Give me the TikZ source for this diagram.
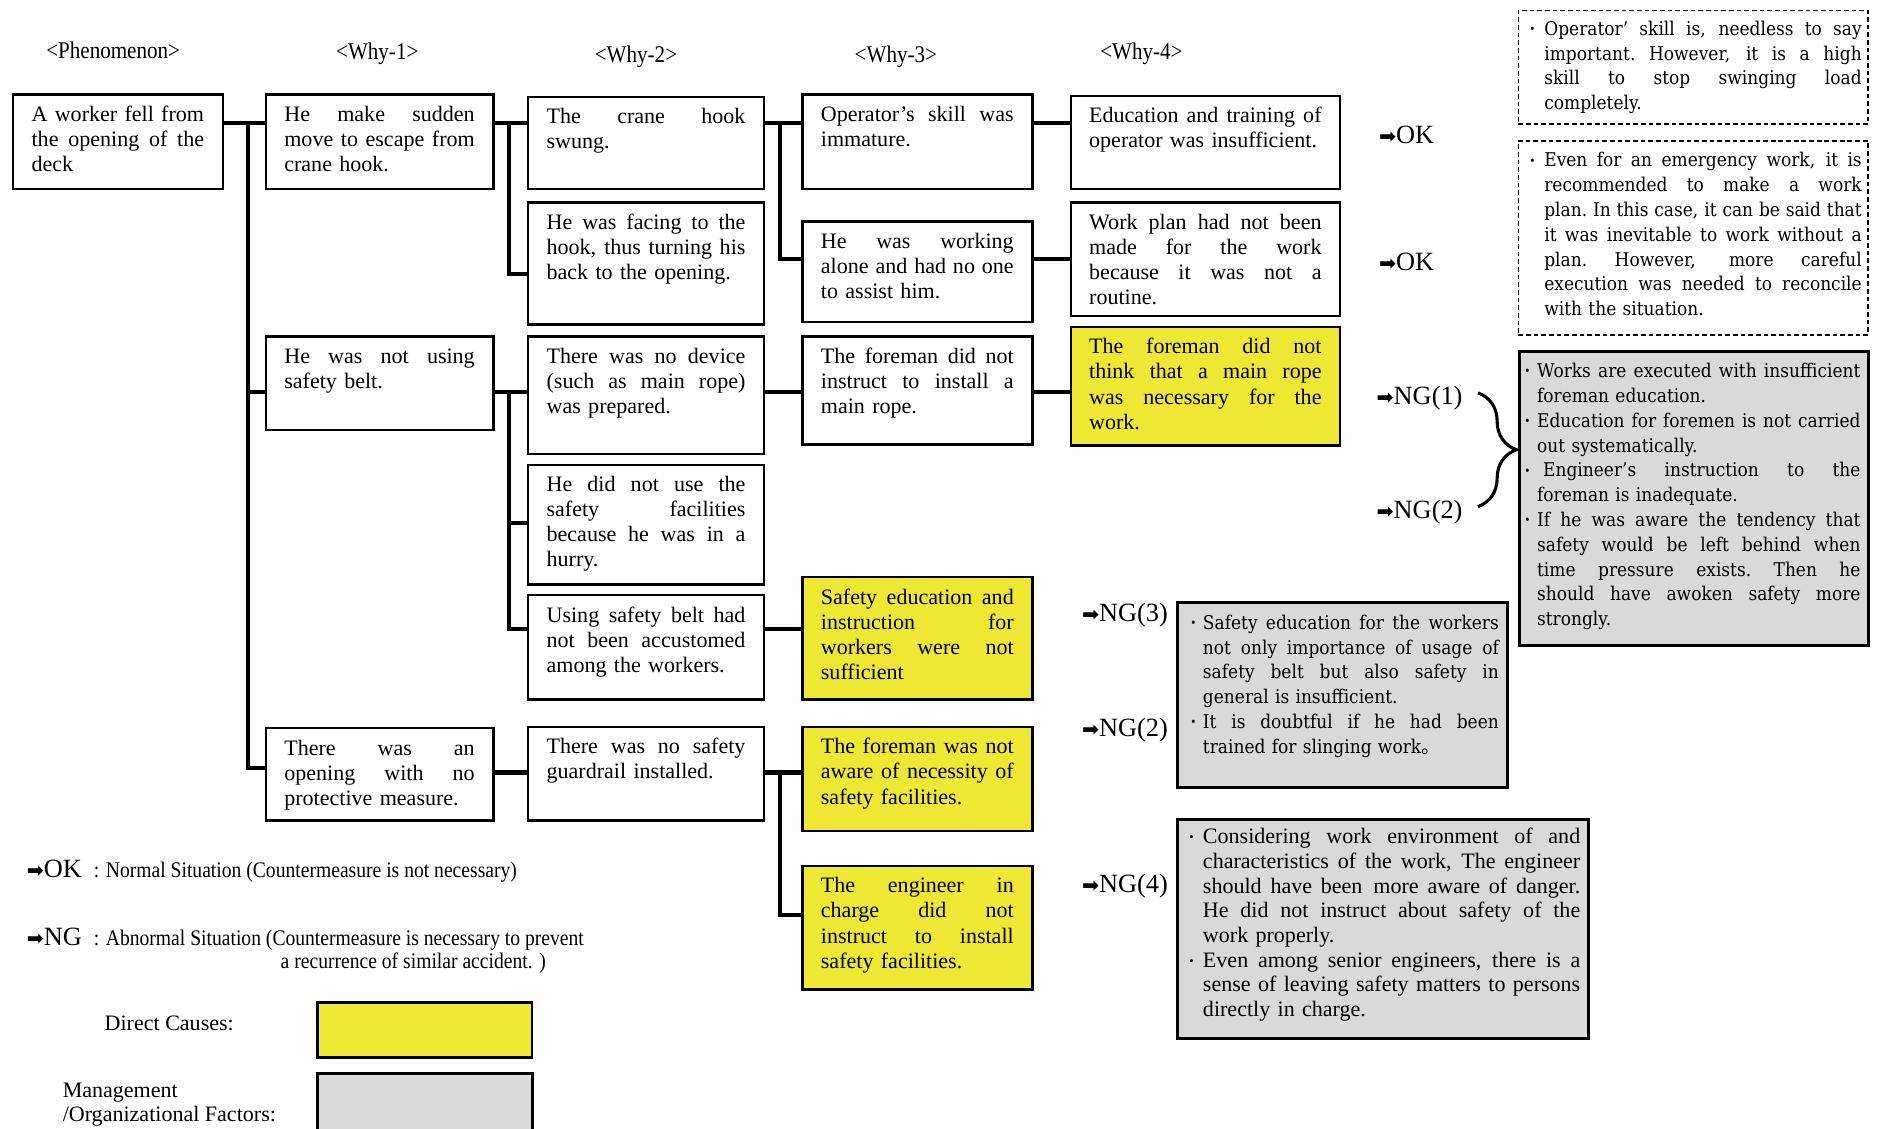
\documentclass[tikz,border=0pt]{standalone}
\usepackage{fontspec}
\setmainfont{Liberation Serif}
\newfontfamily\centfam[FakeStretch=0.9]{DejaVu Serif}
\newfontfamily\narrowfam[FakeStretch=0.88]{Liberation Serif}
\newfontfamily\symfam{DejaVu Sans}
\newfontfamily\cjkfam{Noto Sans CJK JP}
\usetikzlibrary{backgrounds,decorations.pathreplacing}
\definecolor{cyel}{HTML}{EEE734}
\definecolor{cgray}{HTML}{D9D9D9}
\hbadness=10000 \hfuzz=30pt

% justified / bulleted single lines, each one its own paragraph
\newdimen\bulw
\newdimen\jwidth
\newcommand\spreadto[2]{\hbox to #1{\spaceskip=0.25em plus 1fil minus 0.08em\relax\xspaceskip=\spaceskip #2}}
\newcommand\lnj[1]{\leavevmode\spreadto{\jwidth}{#1}\par}
\newcommand\lnt[1]{\leavevmode#1\par}
\newcommand\dotm{\raisebox{-0.9pt}{\fontsize{10.5pt}{10.5pt}\selectfont ·}}
\newcommand\lnbj[1]{\leavevmode\hbox to\bulw{\dotm\hss}\spreadto{\dimexpr\jwidth-\bulw\relax}{#1}\par}
\newcommand\lnij[1]{\leavevmode\hbox to\bulw{\hss}\spreadto{\dimexpr\jwidth-\bulw\relax}{#1}\par}
\newcommand\lnil[1]{\leavevmode\hbox to\bulw{\hss}#1\par}
\newcommand\strutline{\leavevmode\rule{0pt}{7pt}}
\newcommand\arrowmark{{\symfam\fontsize{8.5pt}{8.5pt}\selectfont ➡}}

\newcommand\mainf{\fontsize{9.2pt}{10.5pt}\selectfont}
\newcommand\centf{\centfam\fontsize{7.9pt}{10.35pt}\selectfont}
\newcommand\gthreef{\fontsize{9.2pt}{10.3pt}\selectfont}
\newcommand\okf{\fontsize{11pt}{13pt}\selectfont}
\newcommand\legf{\narrowfam\fontsize{9.3pt}{11pt}\selectfont}
\newcommand\headf{\narrowfam\fontsize{10pt}{11pt}\selectfont}

\tikzset{
  box/.style={draw, line width=1pt, fill=white, inner sep=0pt},
  ybox/.style={box, fill=cyel},
  gbox/.style={draw, line width=1.3pt, fill=cgray, inner sep=0pt},
  dbox/.style={draw, line width=0.7pt, dash pattern=on 2pt off 1.2pt, inner sep=0pt},
  txt/.style={inner sep=0pt, anchor=north west, align=left, font=\mainf},
  conn/.style={line width=1.7pt, line cap=rect, line join=miter},
  lbl/.style={inner sep=0pt, anchor=base west, font=\okf},
  leg/.style={inner sep=0pt, anchor=base west, font=\legf},
  plain/.style={inner sep=0pt, anchor=base west, font=\mainf},
  head/.style={inner sep=0pt, anchor=base, font=\headf},
}

% box with its text: name, x1, y1, x2, y2, style, lines
\newcommand\cbox[7]{%
  \pgfmathsetmacro\bxw{(#4-#2)*0.5}%
  \pgfmathsetmacro\bxh{(#5-#3)*0.5}%
  \pgfmathsetmacro\bxt{(#4-#2-31)*0.5}%
  \global\jwidth=\bxt pt\relax
  \node[#6, minimum width=\bxw pt, minimum height=\bxh pt, anchor=north west] (#1) at (#2,#3) {};
  \node[txt, text width=\bxt pt] (#1-t) at ([xshift=8pt,yshift=-4.5pt]#1.north west)
    {\strutline#7};
}
% empty frame: name, x1, y1, x2, y2, style
\newcommand\pbox[6]{%
  \pgfmathsetmacro\bxw{(#4-#2)*0.5}%
  \pgfmathsetmacro\bxh{(#5-#3)*0.5}%
  \node[#6, minimum width=\bxw pt, minimum height=\bxh pt, anchor=north west] (#1) at (#2,#3) {};
}
% text block with bullets: width, bullet width
\newcommand\setblock[2]{\global\jwidth=#1\relax\global\bulw=#2\relax}

\begin{document}
\begin{tikzpicture}[x=0.5pt, y=-0.5pt]
\useasboundingbox (0,0) rectangle (1568,942);
\begin{pgfonlayer}{background}
  \fill[white] (0,0) rectangle (1568,942);
\end{pgfonlayer}

% column headings
\node[head] (h0) at (94.5,49) {<Phenomenon>};
\node[head] (h1) at (315,50) {<Why-1>};
\node[head] (h2) at (531,52) {<Why-2>};
\node[head] (h3) at (748,52) {<Why-3>};
\node[head] (h4) at (953,50) {<Why-4>};

% phenomenon
\cbox{phen}{10}{78}{185}{157}{box}{\lnj{A worker fell from}\lnj{the opening of the}\lnt{deck}}

% why-1
\cbox{w1a}{221}{78}{411}{157}{box}{\lnj{He make sudden}\lnj{move to escape from}\lnt{crane hook.}}
\cbox{w1b}{221}{280}{411}{358}{box}{\lnj{He was not using}\lnt{safety belt.}}
\cbox{w1c}{221}{607}{411}{684}{box}{\lnj{There was an}\lnj{opening with no}\lnt{protective measure.}}

% why-2
\cbox{w2a}{440}{80}{637}{157}{box}{\lnj{The crane hook}\lnt{swung.}}
\cbox{w2b}{440}{168}{637}{270}{box}{\lnj{He was facing to the}\lnj{hook, thus turning his}\lnt{back to the opening.}}
\cbox{w2c}{440}{280}{637}{378}{box}{\lnj{There was no device}\lnj{(such as main rope)}\lnt{was prepared.}}
\cbox{w2d}{440}{387}{637}{487}{box}{\lnj{He did not use the}\lnj{safety facilities}\lnj{because he was in a}\lnt{hurry.}}
\cbox{w2e}{440}{496}{637}{583}{box}{\lnj{Using safety belt had}\lnj{not been accustomed}\lnt{among the workers.}}
\cbox{w2f}{440}{606}{637}{684}{box}{\lnj{There was no safety}\lnt{guardrail installed.}}

% why-3
\cbox{w3a}{669}{78}{861}{157}{box}{\lnj{Operator’s skill was}\lnt{immature.}}
\cbox{w3b}{669}{184}{861}{268}{box}{\lnj{He was working}\lnj{alone and had no one}\lnt{to assist him.}}
\cbox{w3c}{669}{280}{861}{370}{box}{\lnj{The foreman did not}\lnj{instruct to install a}\lnt{main rope.}}
\cbox{w3d}{669}{481}{861}{583}{ybox}{\lnj{Safety education and}\lnj{instruction for}\lnj{workers were not}\lnt{sufficient}}
\cbox{w3e}{669}{606}{861}{693}{ybox}{\lnj{The foreman was not}\lnj{aware of necessity of}\lnt{safety facilities.}}
\cbox{w3f}{669}{722}{861}{825}{ybox}{\lnj{The engineer in}\lnj{charge did not}\lnj{instruct to install}\lnt{safety facilities.}}

% why-4
\cbox{w4a}{893}{79}{1118}{157}{box}{\lnj{Education and training of}\lnt{operator was insufficient.}}
\cbox{w4b}{893}{168}{1118}{263}{box}{\lnj{Work plan had not been}\lnj{made for the work}\lnj{because it was not a}\lnt{routine.}}
\cbox{w4c}{893}{272}{1118}{371}{ybox}{\lnj{The foreman did not}\lnj{think that a main rope}\lnj{was necessary for the}\lnt{work.}}

% judgements
\node[lbl] (ok1) at (1151,120) {\arrowmark OK};
\node[lbl] (ok2) at (1151,226) {\arrowmark OK};
\node[lbl] (ng1) at (1149,338) {\arrowmark NG(1)};
\node[lbl] (ng2) at (1149,433) {\arrowmark NG(2)};
\node[lbl] (ng3) at (903,519) {\arrowmark NG(3)};
\node[lbl] (ng2b) at (903,615) {\arrowmark NG(2)};
\node[lbl] (ng4) at (903,745) {\arrowmark NG(4)};

% comments (dashed) and management factors (grey)
\pbox{d1}{1267}{8}{1559}{103}{dbox}
\setblock{139pt}{6.5pt}
\node[txt, font=\centf, text width=139pt] (d1-t) at (1276,15) {\strutline
\lnbj{Operator’ skill is, needless to say}
\lnij{important. However, it is a high}
\lnij{skill to stop swinging load}
\lnil{completely.}};

\pbox{d2}{1267}{117}{1559}{279}{dbox}
\node[txt, font=\centf, text width=139pt] (d2-t) at (1276,125) {\strutline
\lnbj{Even for an emergency work, it is}
\lnij{recommended to make a work}
\lnij{plan. In this case, it can be said that}
\lnij{it was inevitable to work without a}
\lnij{plan. However, more careful}
\lnij{execution was needed to reconcile}
\lnil{with the situation.}};

\pbox{g1}{1267}{292}{1559}{538}{gbox}
\setblock{140.5pt}{5.5pt}
\node[txt, font=\centf, text width=140.5pt] (g1-t) at (1272,301) {\strutline
\lnbj{Works are executed with insufficient}
\lnil{foreman education.}
\lnbj{Education for foremen is not carried}
\lnil{out systematically.}
\lnbj{\hspace*{2.5pt}Engineer’s instruction to the}
\lnil{foreman is inadequate.}
\lnbj{If he was aware the tendency that}
\lnij{safety would be left behind when}
\lnij{time pressure exists. Then he}
\lnij{should have awoken safety more}
\lnil{strongly.}};

\pbox{g2}{982}{502}{1257}{656}{gbox}
\setblock{129pt}{5.5pt}
\node[txt, font=\centf, text width=129pt] (g2-t) at (993,511) {\strutline
\lnbj{Safety education for the workers}
\lnij{not only importance of usage of}
\lnij{safety belt but also safety in}
\lnil{general is insufficient.}
\lnbj{It is doubtful if he had been}
\lnil{trained for slinging work{\cjkfam 。}}};

\pbox{g3}{982}{683}{1325}{866}{gbox}
\setblock{164pt}{6.5pt}
\node[txt, font=\gthreef, text width=164pt] (g3-t) at (991,690) {\strutline
\lnbj{Considering work environment of and}
\lnij{characteristics of the work, The engineer}
\lnij{should have been\hspace{0.5em}more aware of danger.}
\lnij{He did not instruct about safety of the}
\lnil{work properly.}
\lnbj{Even among senior engineers, there is a}
\lnij{sense of leaving safety matters to persons}
\lnil{directly in charge.}};

% brace joining NG(1) and NG(2)
\coordinate (br-top) at (1234,328);
\coordinate (br-bot) at (1234,423);
\draw[line width=1.3pt, decorate, decoration={brace, amplitude=16pt}] (br-top) -- (br-bot);

% legend
\node[lbl] (lok) at (22,733) {\arrowmark OK};
\node[leg] (lok-t) at (78,733) {: Normal Situation (Countermeasure is not necessary)};
\node[lbl] (lng) at (22,789) {\arrowmark NG};
\node[leg] (lng-t) at (78,789) {: Abnormal Situation (Countermeasure is necessary to prevent};
\node[leg] (lng-t2) at (234,809) {a recurrence of similar accident. )};
\node[plain] (ldc) at (87,860) {Direct Causes:};
\pbox{legy}{264}{836}{443}{882}{ybox}
\node[plain] (lmg) at (52,916) {Management};
\node[plain] (lmg2) at (52,936) {/Organizational Factors:};
\pbox{legg}{264}{895}{443}{952}{gbox}

% junctions of the tree
\coordinate (j1) at (207,103);
\coordinate (j1b) at (207,327);
\coordinate (j1c) at (207,641);
\coordinate (j2) at (425,103);
\coordinate (j2b) at (425,229);
\coordinate (j3) at (651,103);
\coordinate (j3b) at (651,216);
\coordinate (j4) at (425,327);
\coordinate (j4b) at (425,437);
\coordinate (j4c) at (425,525);
\coordinate (j5) at (425,645);
\coordinate (j6) at (651,645);
\coordinate (j6b) at (651,764);

\begin{pgfonlayer}{background}
  \draw[conn] (phen.east |- j1) -- (w1a.west |- j1);
  \draw[conn] (j1) -- (j1c) -- (w1c.west |- j1c);
  \draw[conn] (j1b) -- (w1b.west |- j1b);

  \draw[conn] (w1a.east |- j2) -- (w2a.west |- j2);
  \draw[conn] (j2) -- (j2b) -- (w2b.west |- j2b);
  \draw[conn] (w2a.east |- j3) -- (w3a.west |- j3);
  \draw[conn] (j3) -- (j3b) -- (w3b.west |- j3b);
  \draw[conn] (w3a.east |- j3) -- (w4a.west |- j3);
  \draw[conn] (w3b.east |- j3b) -- (w4b.west |- j3b);

  \draw[conn] (w1b.east |- j4) -- (w2c.west |- j4);
  \draw[conn] (j4) -- (j4c) -- (w2e.west |- j4c);
  \draw[conn] (j4b) -- (w2d.west |- j4b);
  \draw[conn] (w2c.east |- j4) -- (w3c.west |- j4);
  \draw[conn] (w3c.east |- j4) -- (w4c.west |- j4);
  \draw[conn] (w2e.east |- j4c) -- (w3d.west |- j4c);

  \draw[conn] (w1c.east |- j5) -- (w2f.west |- j5);
  \draw[conn] (w2f.east |- j6) -- (w3e.west |- j6);
  \draw[conn] (j6) -- (j6b) -- (w3f.west |- j6b);
\end{pgfonlayer}
\end{tikzpicture}
\end{document}
